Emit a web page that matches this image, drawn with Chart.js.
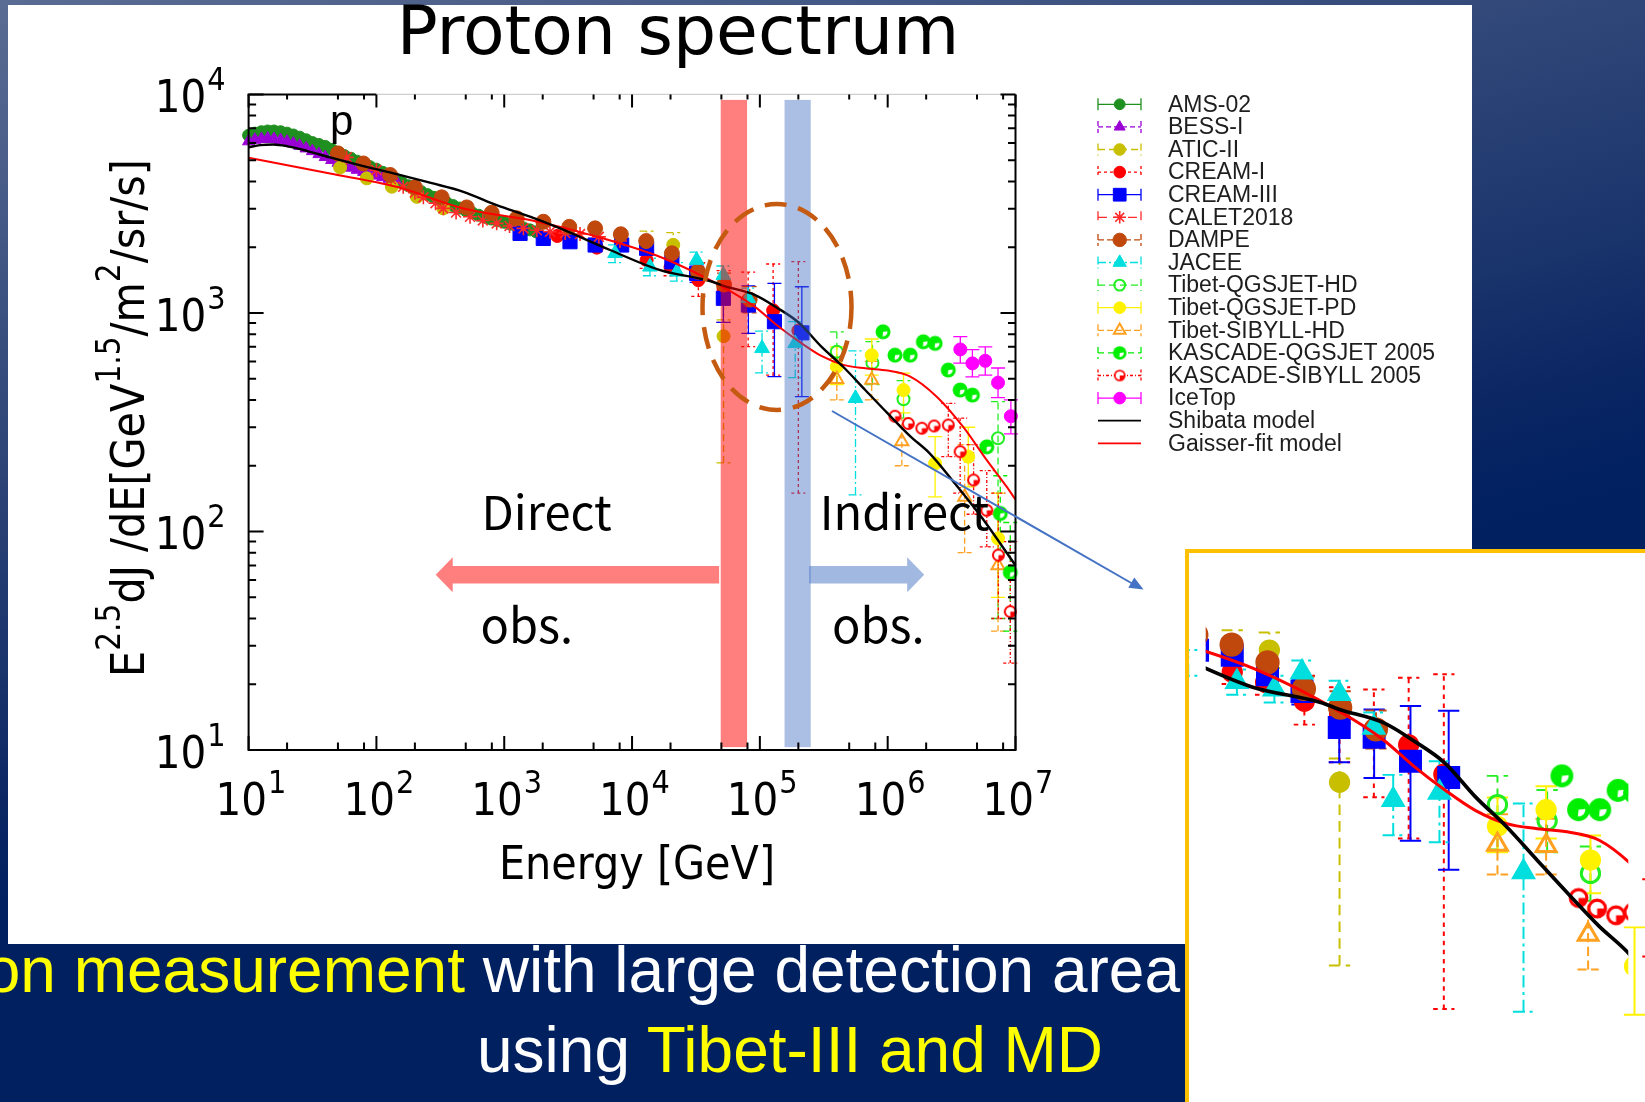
<!DOCTYPE html>
<html>
<head>
<meta charset="utf-8">
<title>Proton spectrum</title>
<script src="https://cdn.jsdelivr.net/npm/chart.js@4.4.1/dist/chart.umd.min.js"></script>
<style>
  html, body { margin: 0; padding: 0; }
  body {
    position: relative; width: 1645px; height: 1102px; overflow: hidden;
    background: linear-gradient(165deg, #5a6c93 0%, #344b7b 25%, #1c366d 42%, #0b2663 52%, #002060 60%);
  }
  #panel { position: absolute; left: 8px; top: 5px; width: 1464px; height: 939px; background: #fff; }
  #foot { position: absolute; left: 0; top: 944px; width: 1645px; height: 158px; background: #002060; }
  #main { position: absolute; left: 0; top: 0; z-index: 1; }
  #insetBox { position: absolute; left: 1185px; top: 549px; width: 470px; height: 570px;
              border: 4px solid #ffc000; background: #fff; z-index: 2; }
  #inset { position: absolute; left: 0; top: 0; }
  #overlay { position: absolute; left: 0; top: 0; z-index: 3; pointer-events: none; }
  .lbl { position: absolute; z-index: 4; white-space: nowrap; line-height: 0; height: 0; color: #000; }
  #title { left: 378px; width: 600px; top: 31px; text-align: center;
           font-family: "DejaVu Sans", sans-serif; font-size: 68px; }
  #xtitle { left: 337px; width: 600px; top: 863px; text-align: center;
            font-family: "DejaVu Sans Condensed", "DejaVu Sans", sans-serif; font-size: 46px; }
  #ytitle { left: 128px; top: 418px; transform: translate(-50%, 0) rotate(-90deg);
            font-family: "DejaVu Sans Condensed", "DejaVu Sans", sans-serif; font-size: 46px; }
  #ytitle .sp { font-size: 33px; position: relative; top: -24px; }
  .foot { position: absolute; z-index: 4; white-space: nowrap; line-height: 0; height: 0; color: #fff;
          font-family: "Liberation Sans", Arial, sans-serif; font-size: 64px; }
  .yel { color: #ffff00; }
</style>
</head>
<body>
<div id="panel"></div>
<div id="foot"></div>
<canvas id="main" width="1645" height="1102"></canvas>
<div id="insetBox"><canvas id="inset" width="456" height="549"></canvas></div>

<svg id="overlay" width="1645" height="1102">
  <ellipse cx="777" cy="307" rx="74.5" ry="103" fill="none" stroke="#c55a11" stroke-width="4.5" stroke-dasharray="22 12"/>
  <line x1="832" y1="411" x2="1133" y2="584" stroke="#4472c4" stroke-width="2"/>
  <polygon points="1143.5,589.6 1134.3,577.4 1128.3,587.8" fill="#4472c4"/>
</svg>

<div id="title" class="lbl">Proton spectrum</div>
<div id="xtitle" class="lbl">Energy [GeV]</div>
<div id="ytitle" class="lbl">E<span class="sp">2.5</span>dJ /dE[GeV<span class="sp">1.5</span>/m<span class="sp">2</span>/sr/s]</div>

<div class="foot" style="right:465px; top:969.5px;"><span class="yel">on measurement</span> with large detection area</div>
<div class="foot" style="left:477px; top:1049.5px;">using <span class="yel">Tibet-III and MD</span></div>

<script>
// [E (GeV), E^2.5 dJ/dE, error low, error high]
const ams02 = [[10,6500],[11.2,6650],[12.6,6750],[14.1,6800],[15.8,6800],[17.8,6750],[20,6650],[22.4,6520],
  [25.1,6370],[28.2,6200],[31.6,6020],[35.5,5900],[39.8,5780],[44.7,5600],[50.1,5420],[56.2,5250],[63.1,5100],
  [70.8,4950],[79.4,4800],[89.1,4670],[100,4550],[112,4400],[126,4250],[141,4100],[158,3950],[178,3820],
  [200,3700],[224,3590],[251,3480],[282,3380],[316,3280],[355,3190],[398,3100],[447,3020],[501,2940],
  [562,2870],[631,2800],[708,2740],[794,2690],[891,2640],[1000,2600],[1122,2550],[1259,2500],[1413,2450],
  [1585,2400],[1778,2350]];
const bess1 = [[10,6100],[11.2,6200],[12.6,6250],[14.1,6280],[15.8,6250],[17.8,6180],[20,6080],[22.4,5960],
  [25.1,5820],[28.2,5660],[31.6,5500],[35.5,5330],[39.8,5170],[44.7,5010],[50.1,4870],[56.2,4740],[63.1,4620],
  [70.8,4520],[79.4,4420],[89.1,4330],[100,4250],[112,4180],[126,4110],[141,4050]];
const atic2 = [[52,4630],[84,4130],[132,3780],[207,3400],[334,3010],
  [13000,2080,1850,2370],[21000,2050,1800,2330],[52000,783,206,930]];
const cream1 = [[2600,2250],[5300,1990],[13000,1746,1600,1900],[20000,1620,1480,1780],[33000,1413,1191,1700],
  [52000,1290,906,1563],[81000,1150,702,1538],[127000,1028,520,1675],[200000,830,150,1718]];
const cream3 = [[1330,2312],[2020,2193],[3270,2118],[5140,2046],[8300,2046],[13000,1976,1880,2080],
  [20500,1714,1600,1830],[32000,1517,1380,1660],[51800,1167,906,1350],[81300,1087,807,1330],
  [130000,912,511,1365],[213000,811,414,1318]];
const calet = [[58.6,5150],[79,4800],[100,4505],[130,4100],[162,3777],[200,3550],[233,3380],[290,3180],
  [334,3010],[420,2880],[540,2755],[680,2650],[873,2570],[1100,2500],[1413,2438],[1800,2390],[2280,2352],
  [3000,2320],[3920,2296],[5500,2230],[8050,2133]];
const dampe = [[50,5370],[79,4830],[128,4280],[200,3756],[324,3380],[509,3040],[798,2872],[1253,2710],
  [2024,2614],[3230,2477],[5140,2438],[8170,2291],[12900,2133],[20500,1875],[32800,1545,1420,1690],
  [52400,1349,1200,1520],[83200,1151,1000,1320]];
const jacee = [[7360,1875,1700,2050],[13800,1626,1480,1780],[22400,1542,1400,1700],[32000,1745,1600,1900],
  [51800,1490,1350,1640],[81000,1167,1050,1300],[104000,689,532,826],[189000,726,506,912],[560000,407,147,671]];
const tibetQHD = [[400000,665,480,820],[760000,591,470,740],[1330000,403,330,490],[7300000,267,40,393]];
const tibetQPD = [[400000,568,470,700],[750000,641,520,760],[1330000,444,349,531],[2350000,205,144,272],
  [4270000,220,160,300],[7300000,93,50,150]];
const tibetSHD = [[400000,497,400,620],[750000,493,400,600],[1290000,258,200,330],[4000000,144,80,250],
  [7300000,70,35,120]];
const kascadeQ = [[920000,820],[1140000,641],[1500000,641],[1900000,738],[2350000,726],[2980000,548],
  [3690000,444],[4600000,421],[5960000,244],[7600000,121,80,180],[9100000,65,35,110]];
const kascadeS = [[1140000,337],[1450000,312],[1850000,297],[2310000,304],[2980000,307,220,386],
  [3690000,232,150,330],[4700000,172,120,250],[5960000,125,85,190],[7350000,78,40,150],[9100000,43,25,90]];
const icetop = [[3700000,681,590,780],[4600000,588,510,680],[5800000,604,520,700],[7300000,480,410,560],
  [9200000,337,280,400]];

// model curves
const shibata = [[10,5730],[12.3,5860],[15.6,5900],[19.9,5800],[28.5,5520],[43.4,5150],[79,4700],[144,4320],
  [262,3945],[479,3585],[873,3115],[1590,2757],[2740,2436],[6730,1941],[16600,1570],[40700,1400],[52000,1330],
  [91000,1210],[136000,1057],[202000,902],[300000,705],[450000,566],[670000,443],[1000000,347],[1490000,274],
  [2130000,228],[3270000,169],[5500000,115],[10000000,70]];
const gaisser = [[10,5130],[43.4,4345],[144,3777],[479,3008],[1590,2660],[5300,2235],[17600,1780],[52000,1310],
  [91000,1069],[136000,879],[202000,741],[300000,638],[450000,579],[670000,558],[1000000,545],[1490000,513],
  [2420000,414],[3900000,301],[5960000,212],[8550000,160],[10000000,140]];

// axis ranges and the direct / indirect markers (GeV)
const xRange = [10, 1e7], yRange = [10, 1e4];
const insetX = [9226, 2.168e6], insetY = [86.1, 3681];
const directBand = [4.94e4, 7.94e4], indirectBand = [1.56e5, 2.5e5];
const directArrow = [291, 4.8e4], indirectArrow = [2.43e5, 1.93e6], arrowLevel = 63.4;

const series = [
  ['AMS-02', ams02, { color: '#1f8f1f', shape: 'circle', r: 6, dash: [] }],
  ['BESS-I', bess1, { color: '#9a00d6', shape: 'triangle', r: 7, dash: [5, 3] }],
  ['ATIC-II', atic2, { color: '#c8bf00', shape: 'circle', r: 6.5, dash: [7, 4] }],
  ['CREAM-I', cream1, { color: '#ff0000', shape: 'circle', r: 6.5, dash: [3, 3] }],
  ['CREAM-III', cream3, { color: '#0000ff', shape: 'rect', r: 10, dash: [] }],
  ['CALET2018', calet, { color: '#ff2a2a', shape: 'star', r: 7, dash: [9, 6] }],
  ['DAMPE', dampe, { color: '#c0480c', shape: 'circle', r: 7.5, dash: [6, 3] }],
  ['JACEE', jacee, { color: '#00dede', shape: 'triangle', r: 8.5, dash: [8, 3, 2, 3] }],
  ['Tibet-QGSJET-HD', tibetQHD, { color: '#22ee22', shape: 'circle', r: 6, open: true, dash: [7, 4] }],
  ['Tibet-QGSJET-PD', tibetQPD, { color: '#fff200', shape: 'circle', r: 6.5, dash: [] }],
  ['Tibet-SIBYLL-HD', tibetSHD, { color: '#ffa020', shape: 'triangle', r: 7.5, open: true, dash: [6, 3] }],
  ['KASCADE-QGSJET 2005', kascadeQ, { color: '#00ee00', shape: 'wedge', r: 7.5, dash: [6, 4] }],
  ['KASCADE-SIBYLL 2005', kascadeS, { color: '#ff0000', shape: 'ring', r: 6.5, dash: [3, 2, 1, 2] }],
  ['IceTop', icetop, { color: '#ff00ff', shape: 'circle', r: 6.5, dash: [] }]
];
const models = [
  ['Shibata model', shibata, { color: '#000000', width: 2.4 }],
  ['Gaisser-fit model', gaisser, { color: '#ff0000', width: 2 }]
];

// KASCADE symbols: filled disc with a white quarter, or a ring with a filled quarter
function quarterMarker(color, r, ring) {
  const lw = 2 * r / 6.5, size = Math.ceil(2 * r + lw + 2);
  const c = document.createElement('canvas');
  c.width = c.height = size;
  const g = c.getContext('2d'), m = size / 2;
  if (ring) {
    const rr = r - lw / 2;
    g.fillStyle = '#fff';
    g.beginPath(); g.arc(m, m, rr, 0, 2 * Math.PI); g.fill();
    g.fillStyle = color;
    g.beginPath(); g.moveTo(m, m); g.arc(m, m, rr, 0, Math.PI / 2); g.closePath(); g.fill();
    g.strokeStyle = color; g.lineWidth = lw;
    g.beginPath(); g.arc(m, m, rr, 0, 2 * Math.PI); g.stroke();
  } else {
    g.fillStyle = color;
    g.beginPath(); g.arc(m, m, r, 0, 2 * Math.PI); g.fill();
    g.fillStyle = '#fff';
    g.beginPath(); g.moveTo(m, m); g.arc(m, m, r * 0.6, -0.1, Math.PI / 2 + 0.1); g.closePath(); g.fill();
  }
  return c;
}

function buildDatasets(k, clip) {
  const sets = series.map(([label, rows, st], i) => {
    let style = st.shape;
    if (st.shape === 'wedge') style = quarterMarker(st.color, st.r * k, false);
    if (st.shape === 'ring') style = quarterMarker(st.color, st.r * k, true);
    return {
      label,
      data: rows.map(r => ({ x: r[0], y: r[1] })),
      err: rows.map(r => (r.length > 2 ? [r[2], r[3]] : null)),
      st,
      showLine: false,
      pointStyle: style,
      pointRadius: st.r * k,
      pointBackgroundColor: st.open ? 'rgba(0,0,0,0)' : st.color,
      pointBorderColor: st.color,
      pointBorderWidth: (st.open ? 2 : st.shape === 'star' ? 1.6 : 1) * k,
      borderColor: st.color,
      order: 100 - i,
      clip
    };
  });
  models.forEach(([label, rows, st]) => {
    sets.push({
      label,
      data: rows.map(r => ({ x: r[0], y: r[1] })),
      st: { ...st, model: true },
      showLine: true,
      pointRadius: 0,
      borderColor: st.color,
      borderWidth: st.width * k,
      cubicInterpolationMode: 'monotone',
      order: 0,
      clip
    });
  });
  return sets;
}

const errBars = {
  id: 'errbars',
  beforeDatasetsDraw(chart, args, opts) {
    const { ctx, scales: { x, y } } = chart;
    const k = opts.k;
    ctx.save();
    chart.data.datasets.forEach(ds => {
      if (!ds.err) return;
      ctx.strokeStyle = ds.st.color;
      ctx.lineWidth = 1.3 * k;
      ctx.setLineDash(ds.st.dash.map(v => v * k));
      ds.data.forEach((p, i) => {
        const e = ds.err[i];
        if (!e) return;
        const px = x.getPixelForValue(p.x);
        const lo = y.getPixelForValue(e[0]), hi = y.getPixelForValue(e[1]), c = 7 * k;
        ctx.beginPath();
        ctx.moveTo(px, lo); ctx.lineTo(px, hi);
        ctx.moveTo(px - c, lo); ctx.lineTo(px + c, lo);
        ctx.moveTo(px - c, hi); ctx.lineTo(px + c, hi);
        ctx.stroke();
      });
    });
    ctx.restore();
  }
};

function drawMarker(ctx, st, cx, cy, r) {
  ctx.save();
  if (st.shape === 'wedge' || st.shape === 'ring') {
    const img = quarterMarker(st.color, r, st.shape === 'ring');
    ctx.drawImage(img, cx - img.width / 2, cy - img.height / 2);
    ctx.restore();
    return;
  }
  ctx.fillStyle = st.open ? 'rgba(0,0,0,0)' : st.color;
  ctx.strokeStyle = st.color;
  ctx.lineWidth = st.open ? 2 : 1;
  ctx.beginPath();
  if (st.shape === 'circle') {
    ctx.arc(cx, cy, r, 0, Math.PI * 2);
  } else if (st.shape === 'triangle') {
    for (let j = 0; j < 3; j++) {
      const t = j * 2 * Math.PI / 3;
      ctx.lineTo(cx + Math.sin(t) * r, cy - Math.cos(t) * r);
    }
    ctx.closePath();
  } else if (st.shape === 'rect') {
    const s = r * Math.SQRT1_2;
    ctx.rect(cx - s, cy - s, 2 * s, 2 * s);
  } else if (st.shape === 'star') {
    for (let j = 0; j < 4; j++) {
      const t = j * Math.PI / 4;
      ctx.moveTo(cx + Math.cos(t) * r, cy + Math.sin(t) * r);
      ctx.lineTo(cx - Math.cos(t) * r, cy - Math.sin(t) * r);
    }
    ctx.lineWidth = 1.6;
    ctx.stroke();
    ctx.restore();
    return;
  }
  ctx.fill();
  ctx.stroke();
  ctx.restore();
}

function arrow(ctx, tip, tail, yc, color) {
  const s = Math.sign(tail - tip), L = 17, H = 17.5, h = 8.7;
  ctx.fillStyle = color;
  ctx.beginPath();
  ctx.moveTo(tip, yc);
  ctx.lineTo(tip + s * L, yc - H); ctx.lineTo(tip + s * L, yc - h);
  ctx.lineTo(tail, yc - h); ctx.lineTo(tail, yc + h);
  ctx.lineTo(tip + s * L, yc + h); ctx.lineTo(tip + s * L, yc + H);
  ctx.closePath();
  ctx.fill();
}

const TICK_FONT = '"DejaVu Sans Condensed", "DejaVu Sans", sans-serif';

function powerLabel(ctx, exp, left, base) {
  ctx.font = '45px ' + TICK_FONT;
  ctx.fillText('10', left, base);
  const w = ctx.measureText('10').width;
  ctx.font = '32px ' + TICK_FONT;
  ctx.fillText(String(exp), left + w + 1, base - 22);
}

const decor = {
  id: 'decor',
  afterDatasetsDraw(chart) {
    const { ctx, chartArea: a, scales: { x, y } } = chart;
    ctx.save();
    // observation regions, drawn translucent over the data
    const top = a.top + 5.5, bot = a.bottom - 3;
    const band = (b, color) => {
      const l = x.getPixelForValue(b[0]), r = x.getPixelForValue(b[1]);
      ctx.fillStyle = color;
      ctx.fillRect(l, top, r - l, bot - top);
    };
    band(directBand, 'rgba(255,0,0,0.5)');
    band(indirectBand, 'rgba(68,114,196,0.45)');
    const ya = y.getPixelForValue(arrowLevel);
    arrow(ctx, x.getPixelForValue(directArrow[0]), x.getPixelForValue(directArrow[1]), ya, 'rgba(255,0,0,0.5)');
    arrow(ctx, x.getPixelForValue(indirectArrow[1]), x.getPixelForValue(indirectArrow[0]), ya, 'rgba(68,114,196,0.5)');

    // labels inside the plot
    ctx.fillStyle = '#000';
    ctx.textBaseline = 'alphabetic';
    ctx.textAlign = 'left';
    ctx.font = '47px "Noto Sans CJK JP", "Noto Sans", sans-serif';
    ctx.fillText('Direct', x.getPixelForValue(664), y.getPixelForValue(102));
    ctx.fillText('obs.', x.getPixelForValue(652), y.getPixelForValue(30.8));
    ctx.fillText('Indirect', x.getPixelForValue(2.94e5), y.getPixelForValue(102));
    ctx.fillText('obs.', x.getPixelForValue(3.67e5), y.getPixelForValue(30.8));
    ctx.font = '42px "Liberation Sans", Arial, sans-serif';
    ctx.fillText('p', x.getPixelForValue(43.4), y.getPixelForValue(6520));

    // frame
    ctx.strokeStyle = '#000';
    ctx.lineWidth = 2;
    ctx.beginPath();
    ctx.moveTo(a.left, a.top); ctx.lineTo(a.left, a.bottom);
    ctx.lineTo(a.right, a.bottom); ctx.lineTo(a.right, a.top);
    ctx.stroke();
    const x100 = x.getPixelForValue(100);
    ctx.beginPath(); ctx.moveTo(a.left - 1, a.top); ctx.lineTo(x100, a.top); ctx.stroke();
    ctx.strokeStyle = '#cfcfcf';
    ctx.lineWidth = 1.2;
    ctx.beginPath(); ctx.moveTo(x100, a.top); ctx.lineTo(a.right, a.top); ctx.stroke();

    // ticks: x has 2, 5, 8 minors, y has the full set
    ctx.strokeStyle = '#000';
    ctx.lineWidth = 2;
    ctx.beginPath();
    for (let d = 1; d <= 7; d++) {
      for (const m of [1, 2, 5, 8]) {
        const v = m * Math.pow(10, d);
        if (v > xRange[1]) break;
        const px = x.getPixelForValue(v);
        const major = m === 1;
        ctx.moveTo(px, a.bottom); ctx.lineTo(px, a.bottom - (major ? 14 : 7.5));
        ctx.moveTo(px, a.top); ctx.lineTo(px, a.top + (major ? 13 : 5));
      }
    }
    for (let d = 1; d <= 4; d++) {
      for (let m = 1; m <= 9; m++) {
        const v = m * Math.pow(10, d);
        if (v > yRange[1]) break;
        const py = y.getPixelForValue(v);
        const len = m === 1 ? 15 : 7.5;
        ctx.moveTo(a.left, py); ctx.lineTo(a.left + len, py);
        ctx.moveTo(a.right, py); ctx.lineTo(a.right - len, py);
      }
    }
    ctx.stroke();

    // tick labels
    ctx.fillStyle = '#000';
    for (let d = 1; d <= 7; d++) {
      powerLabel(ctx, d, x.getPixelForValue(Math.pow(10, d)) - 33, 815);
    }
    for (let d = 1; d <= 4; d++) {
      const py = y.getPixelForValue(Math.pow(10, d));
      ctx.font = '45px ' + TICK_FONT;
      const w1 = ctx.measureText('10').width;
      ctx.font = '32px ' + TICK_FONT;
      const w2 = ctx.measureText(String(d)).width;
      powerLabel(ctx, d, a.left - 23 - w1 - w2 - 1, py + 17.6);
    }

    // legend
    const x0 = 1098, x1 = 1141, xm = 1119.7, tx = 1168, y0 = 104.3, dy = 22.6;
    chart.data.datasets.forEach((ds, i) => {
      const yy = y0 + i * dy, st = ds.st;
      ctx.save();
      ctx.strokeStyle = st.color;
      ctx.lineWidth = st.model ? 1.8 : 1.3;
      ctx.setLineDash(st.model ? [] : st.dash);
      ctx.beginPath();
      ctx.moveTo(x0, yy); ctx.lineTo(x1, yy);
      if (!st.model) {
        ctx.moveTo(x0, yy - 6); ctx.lineTo(x0, yy + 6);
        ctx.moveTo(x1, yy - 6); ctx.lineTo(x1, yy + 6);
      }
      ctx.stroke();
      ctx.setLineDash([]);
      if (!st.model) drawMarker(ctx, st, xm, yy, st.r * 0.9);
      ctx.fillStyle = '#1e1e1e';
      ctx.font = '23px "Liberation Sans", Arial, sans-serif';
      ctx.textBaseline = 'middle';
      ctx.fillText(ds.label, tx, yy + 1);
      ctx.restore();
    });
    ctx.restore();
  }
};

function makeChart(canvas, k, xr, yr, padding, extra) {
  return new Chart(canvas, {
    type: 'scatter',
    data: { datasets: buildDatasets(k, extra ? false : true) },
    options: {
      responsive: false,
      animation: false,
      devicePixelRatio: 1,
      events: [],
      layout: { padding },
      scales: {
        x: { type: 'logarithmic', min: xr[0], max: xr[1], display: false },
        y: { type: 'logarithmic', min: yr[0], max: yr[1], display: false }
      },
      plugins: { legend: { display: false }, tooltip: { enabled: false }, errbars: { k } }
    },
    plugins: extra ? [errBars, decor] : [errBars]
  });
}

makeChart(document.getElementById('main'), 1, xRange, yRange,
  { left: 248.6, top: 94.4, right: 1645 - 1015.5, bottom: 1102 - 750.1 }, true);
makeChart(document.getElementById('inset'), 1.52, insetX, insetY,
  { left: 0, top: 0, right: 0, bottom: 0 }, false);
</script>
</body>
</html>
